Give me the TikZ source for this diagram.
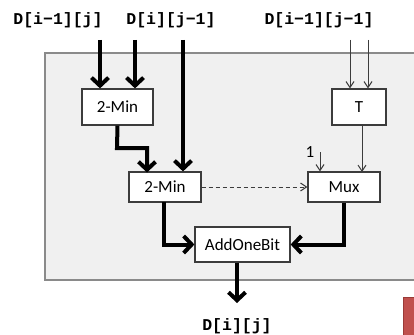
\documentclass[tikz,border=0pt]{standalone}
\usepackage{fontspec}
\setmainfont{Carlito}
\newfontfamily\monob{Liberation Mono}
\usetikzlibrary{arrows.meta}
\definecolor{panelfill}{HTML}{F0F0F0}
\definecolor{panelline}{HTML}{8A8A8A}
\definecolor{boxline}{HTML}{3C3C3C}
\definecolor{redfill}{HTML}{C0504D}
\definecolor{redline}{HTML}{9A3A37}
\tikzset{
  blk/.style={draw=boxline, fill=white, line width=1.2pt, inner sep=0pt, font=\fontsize{17}{20}\selectfont},
  lbl/.style={font=\monob\bfseries\fontsize{16.5}{20}\selectfont, inner sep=0pt},
  thickarr/.style={line width=4pt, -{Straight Barb[length=8pt,width=17pt,line width=4pt]}},
  thickln/.style={line width=4pt},
  thinarr/.style={draw=boxline, line width=1pt, -{Straight Barb[length=6pt,width=8pt]}},
  dasharr/.style={draw=boxline, line width=1pt, dashed, dash pattern=on 4pt off 3pt, -{Straight Barb[length=6pt,width=8pt]}},
}
\begin{document}
\begin{tikzpicture}[x=1pt,y=-1pt]
\useasboundingbox (0,0) rectangle (414,334);
\clip (0,0) rectangle (414,334);
% panel
\draw[panelline, fill=panelfill, line width=1.2pt] (45,53) rectangle (430,280);
% red block
\draw[redline, fill=redfill, line width=1pt] (403.5,297.5) rectangle (430,345);
% blocks
\node[blk, minimum width=71pt, minimum height=36pt] (m1) at (117.5,107) {2-Min};
\node[blk, minimum width=54pt, minimum height=36pt] (t) at (359,107) {T};
\node[blk, minimum width=72pt, minimum height=30pt] (m2) at (165,187) {2-Min};
\node[blk, minimum width=72pt, minimum height=30pt] (mux) at (344,187) {Mux};
\node[blk, minimum width=95pt, minimum height=35pt] (add) at (242.5,244.5) {AddOneBit};
% labels
\node[lbl] (l1) at (58,20) {D[i−1][j]};
\node[lbl] (l2) at (171,20) {D[i][j−1]};
\node[lbl] (l3) at (319,20) {D[i−1][j−1]};
\node[lbl] (lo) at (237,326) {D[i][j]};
\node[font=\fontsize{17}{20}\selectfont, inner sep=0pt] (one) at (310,152) {1};
% free-end coordinates
\coordinate (a1) at (100,40);
\coordinate (a2) at (135,40);
\coordinate (a3) at (183,40);
\coordinate (b1) at (350,40);
\coordinate (b2) at (368,40);
\coordinate (c1) at (320,152);
\coordinate (out) at (237,303);
% connectors
\draw[thickarr] (a1) -- (a1 |- m1.north);
\draw[thickarr] (a2) -- (a2 |- m1.north);
\draw[thinarr] (b1) -- (b1 |- t.north);
\draw[thinarr] (b2) -- (b2 |- t.north);
\draw[thickarr] (m1.south) -- (117,148) -- (147,148) -- (147,172.5);
\draw[thickarr] (a3) -- (a3 |- m2.north);
\draw[thinarr] (362,125) -- (362,172);
\draw[thinarr] (c1) -- (c1 |- mux.north);
\draw[dasharr] (m2.east) -- (mux.west);
\draw[thickarr] (164,202) -- (164,244.5) -- (add.west);
\draw[thickarr] (mux.south) -- (344,244.5) -- (add.east);
\draw[thickarr] (add.south -| out) -- (out);
\end{tikzpicture}
\end{document}
